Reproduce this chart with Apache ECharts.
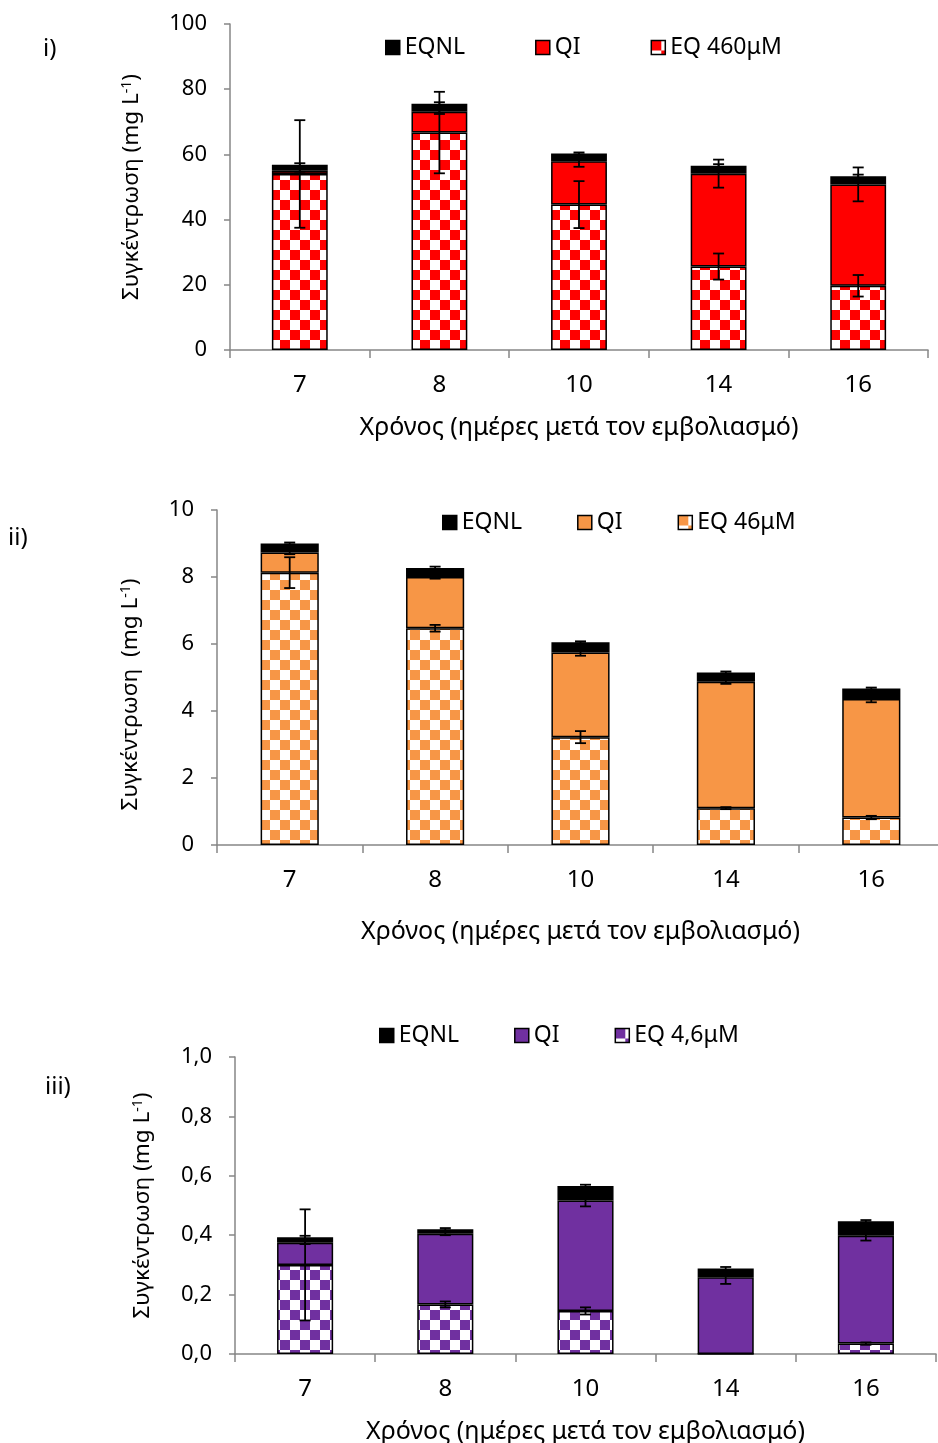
<!DOCTYPE html>
<html>
<head>
<meta charset="utf-8">
<script src="https://cdn.jsdelivr.net/npm/echarts@6/dist/echarts.min.js"></script>
<style>
  html, body { margin: 0; padding: 0; background: #fff; }
  #chart { width: 938px; height: 1443px; }
</style>
</head>
<body>
<div id="chart"></div>
<script>
// Sampling days after inoculation
const days = ['7', '8', '10', '14', '16'];

// Panel i) – EQ 460μM (mg L-1), stacked segments
const eq460 = [54.0, 66.7, 44.6, 25.6, 19.7];
const qi460 = [1.0, 6.4, 13.3, 28.5, 31.1];
const nl460 = [1.8, 2.4, 2.4, 2.4, 2.5];
const eq460Err = [16.5, 12.5, 7.2, 4.0, 3.3];
const qi460Err = [0.8, 0.7, 1.7, 4.3, 5.2];
const nl460Err = [0.5, 0.5, 0.3, 0.5, 0.5];

// Panel ii) – EQ 46μM
const eq46 = [8.13, 6.47, 3.22, 1.10, 0.82];
const qi46 = [0.60, 1.53, 2.53, 3.77, 3.54];
const nl46 = [0.27, 0.27, 0.30, 0.28, 0.31];
const eq46Err = [0.46, 0.10, 0.18, 0.03, 0.05];
const qi46Err = [0.05, 0.05, 0.10, 0.06, 0.10];
const nl46Err = [0.03, 0.04, 0.03, 0.03, 0.03];

// Panel iii) – EQ 4,6μM
const eq4 = [0.300, 0.167, 0.145, 0.000, 0.035];
const qi4 = [0.075, 0.238, 0.372, 0.258, 0.363];
const nl4 = [0.018, 0.015, 0.049, 0.030, 0.049];
const eq4Err = [0.187, 0.010, 0.012, 0.000, 0.004];
const qi4Err = [0.005, 0.005, 0.020, 0.022, 0.016];
const nl4Err = [0.005, 0.004, 0.004, 0.005, 0.004];

const xTitle = 'Χρόνος (ημέρες μετά τον εμβολιασμό)';
const FONT = '"Noto Sans", "DejaVu Sans", sans-serif';
const AXIS_GREY = '#868686';

// Checkerboard fill used for the EQ segments
function checker(color) {
  const c = document.createElement('canvas');
  const s = 10;
  c.width = s * 2; c.height = s * 2;
  const g = c.getContext('2d');
  g.fillStyle = '#ffffff';
  g.fillRect(0, 0, s * 2, s * 2);
  g.fillStyle = color;
  g.fillRect(0, 0, s, s);
  g.fillRect(s, s, s, s);
  return { image: c, repeat: 'repeat' };
}

// Vertical error bar with caps, centred on the stacked top of a segment
function renderErr(params, api) {
  const x = api.value(0), c = api.value(1), e = api.value(2);
  if (!e) return null;
  const top = api.coord([x, c + e]);
  const bot = api.coord([x, c - e]);
  const cap = 5.5;
  const st = { stroke: '#000', lineWidth: 1.8 };
  return {
    type: 'group',
    children: [
      { type: 'line', shape: { x1: top[0], y1: top[1], x2: bot[0], y2: bot[1] }, style: st },
      { type: 'line', shape: { x1: top[0] - cap, y1: top[1], x2: top[0] + cap, y2: top[1] }, style: st },
      { type: 'line', shape: { x1: bot[0] - cap, y1: bot[1], x2: bot[0] + cap, y2: bot[1] }, style: st }
    ]
  };
}

const grids = [
  { left: 230, top: 24, width: 698, height: 326, outerBoundsMode: 'none' },
  { left: 217, top: 510, width: 727, height: 335, outerBoundsMode: 'none' },
  { left: 235, top: 1057, width: 701, height: 297, outerBoundsMode: 'none' }
];

const panels = [
  { eq: eq460, qi: qi460, nl: nl460, eqE: eq460Err, qiE: qi460Err, nlE: nl460Err,
    color: '#FF0000', eqName: 'EQ 460μM', max: 100, interval: 20,
    yName: 'Συγκέντρωση (mg L{sup|-1})', yGap: 86, yPad: [0, 0, 0, 0], xGap: 65,
    legendLeft: 380, legendTop: 31, legendGap: 70 },
  { eq: eq46, qi: qi46, nl: nl46, eqE: eq46Err, qiE: qi46Err, nlE: nl46Err,
    color: '#F79646', eqName: 'EQ 46μM', max: 10, interval: 2,
    yName: 'Συγκέντρωση  (mg L{sup|-1})', yGap: 74, yPad: [0, 34, 0, 0], xGap: 74,
    legendLeft: 437, legendTop: 506, legendGap: 55 },
  { eq: eq4, qi: qi4, nl: nl4, eqE: eq4Err, qiE: qi4Err, nlE: nl4Err,
    color: '#7030A0', eqName: 'EQ 4,6μM', max: 1, interval: 0.2,
    yName: 'Συγκέντρωση (mg L{sup|-1})', yGap: 80, yPad: [0, 0, 0, 0], xGap: 65,
    legendLeft: 374, legendTop: 1019, legendGap: 55 }
];

const xAxes = [], yAxes = [], series = [], legends = [];

panels.forEach((p, k) => {
  xAxes.push({
    type: 'category', gridIndex: k, data: days,
    axisLine: { lineStyle: { color: AXIS_GREY, width: 1.5 } },
    axisTick: { show: true, length: 8, lineStyle: { color: AXIS_GREY, width: 1.5 } },
    axisLabel: { color: '#000', fontSize: 24, fontFamily: FONT, margin: 23 },
    name: xTitle, nameLocation: 'middle', nameGap: p.xGap,
    nameTextStyle: { color: '#000', fontSize: 25, fontFamily: FONT }
  });
  yAxes.push({
    type: 'value', gridIndex: k, min: 0, max: p.max, interval: p.interval,
    axisLine: { show: true, lineStyle: { color: AXIS_GREY, width: 1.5 } },
    axisTick: { show: true, length: 6, lineStyle: { color: AXIS_GREY, width: 1.5 } },
    splitLine: { show: false },
    axisLabel: {
      color: '#000', fontSize: 22, fontFamily: FONT, margin: 23,
      formatter: k === 2 ? (v) => v.toFixed(1).replace('.', ',') : (v) => String(Math.round(v))
    },
    name: p.yName, nameLocation: 'middle', nameRotate: 90, nameGap: p.yGap,
    nameTextStyle: {
      color: '#000', fontSize: 22.5, fontFamily: FONT, padding: p.yPad,
      rich: { sup: { fontSize: 14, fontFamily: FONT, color: '#000', padding: [0, 0, 10, 0] } }
    }
  });

  const pattern = checker(p.color);
  const border = { borderColor: '#000', borderWidth: 1.5 };
  const stack = 'panel' + k;
  series.push(
    { name: p.eqName, type: 'bar', stack, xAxisIndex: k, yAxisIndex: k, barWidth: '40%',
      itemStyle: Object.assign({ color: pattern }, border), data: p.eq },
    { name: 'QI', type: 'bar', stack, xAxisIndex: k, yAxisIndex: k, barWidth: '40%',
      itemStyle: Object.assign({ color: p.color }, border), data: p.qi },
    { name: 'EQNL', type: 'bar', stack, xAxisIndex: k, yAxisIndex: k, barWidth: '40%',
      itemStyle: Object.assign({ color: '#000' }, border), data: p.nl }
  );

  // error bars at each stacked level
  const errData = [];
  days.forEach((d, i) => {
    const a = p.eq[i], b = a + p.qi[i], t = b + p.nl[i];
    errData.push([i, a, p.eqE[i]], [i, b, p.qiE[i]], [i, t, p.nlE[i]]);
  });
  series.push({
    type: 'custom', xAxisIndex: k, yAxisIndex: k, z: 5,
    renderItem: renderErr, encode: { x: 0, y: 1 }, data: errData, silent: true
  });

  legends.push({
    left: p.legendLeft, top: p.legendTop, itemGap: p.legendGap,
    itemWidth: 14, itemHeight: 14, icon: 'rect', selectedMode: false,
    textStyle: { color: '#000', fontSize: 23, fontFamily: FONT },
    data: [
      { name: 'EQNL', itemStyle: { color: '#000', borderColor: '#000', borderWidth: 1.5 } },
      { name: 'QI', itemStyle: { color: p.color, borderColor: '#000', borderWidth: 1.5 } },
      { name: p.eqName, itemStyle: { color: pattern, borderColor: '#000', borderWidth: 1.5 } }
    ]
  });
});

const labelStyle = { color: '#000', fontSize: 24, fontWeight: 'normal', fontFamily: FONT };
const option = {
  animation: false,
  backgroundColor: '#fff',
  title: [
    { text: 'i)', left: 43, top: 37, padding: 0, textStyle: labelStyle },
    { text: 'ii)', left: 8, top: 526, padding: 0, textStyle: labelStyle },
    { text: 'iii)', left: 45, top: 1075, padding: 0, textStyle: labelStyle }
  ],
  legend: legends,
  grid: grids,
  xAxis: xAxes,
  yAxis: yAxes,
  series: series
};

const chart = echarts.init(document.getElementById('chart'), null, { renderer: 'canvas' });
chart.setOption(option);
</script>
</body>
</html>
